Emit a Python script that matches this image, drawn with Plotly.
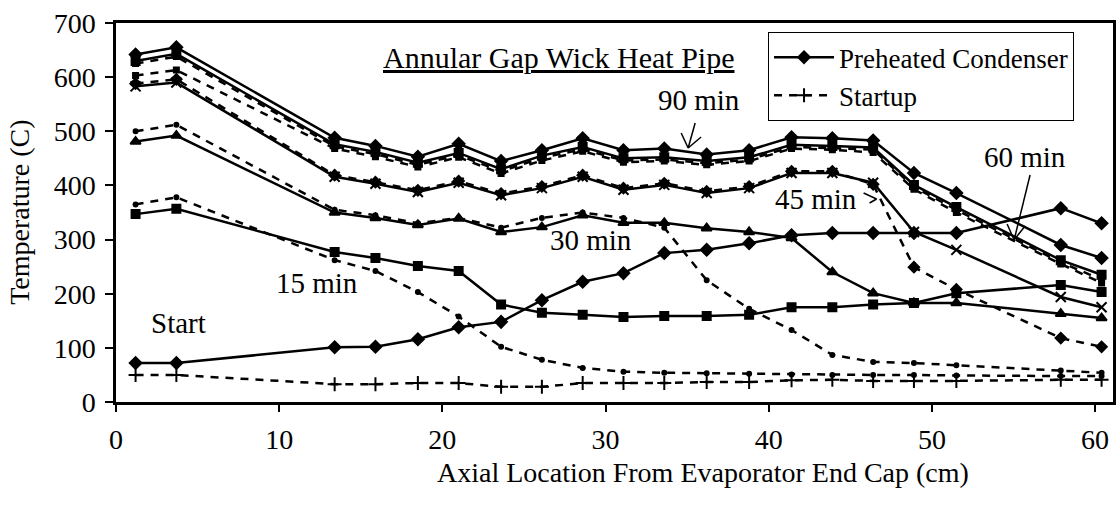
import plotly.graph_objects as go

# axial positions (cm)
X = [1.2, 3.7, 13.4, 15.9, 18.5, 21.0, 23.6, 26.1, 28.6, 31.1, 33.6, 36.2,
     38.8, 41.4, 43.9, 46.4, 48.9, 51.5, 57.9, 60.4]

# Preheated condenser (solid)
P_start = [72, 72, 101, 102, 116, 138, 148, 188, 222, 238, 275, 281, 293, 308, 312, 312, 312, 312, 358, 330]
P_15 = [347, 357, 277, 266, 251, 242, 180, 165, 161, 157, 159, 159, 161, 175, 175, 180, 183, 201, 216, 203]
P_30 = [481, 492, 350, 340, 327, 339, 314, 323, 345, 331, 331, 321, 314, 303, 240, 201, 183, 183, 163, 155]
P_45 = [583, 590, 416, 403, 388, 405, 382, 395, 416, 392, 401, 386, 395, 423, 423, 405, 314, 281, 194, 175]
P_60 = [630, 643, 476, 462, 442, 460, 430, 455, 471, 450, 452, 445, 452, 475, 473, 470, 401, 360, 262, 235]
P_90 = [642, 655, 488, 473, 453, 477, 445, 465, 487, 465, 468, 457, 465, 489, 487, 483, 423, 386, 290, 266]

# Startup (dashed)
S_start = [50, 50, 33, 33, 35, 35, 28, 28, 35, 35, 35, 37, 37, 40, 41, 39, 39, 39, 41, 41]
S_15 = [365, 378, 262, 242, 203, 158, 102, 78, 63, 56, 54, 53, 52, 51, 50, 50, 50, 49, 48, 48]
S_30 = [500, 512, 355, 345, 330, 340, 322, 340, 350, 340, 322, 225, 172, 133, 87, 74, 72, 68, 58, 54]
S_45 = [588, 596, 419, 406, 391, 408, 385, 398, 419, 395, 404, 389, 398, 426, 426, 402, 249, 208, 118, 102]
S_60 = [603, 613, 468, 453, 434, 452, 422, 446, 463, 443, 445, 438, 445, 468, 466, 461, 393, 350, 255, 220]
S_90 = [625, 638, 472, 458, 438, 456, 426, 451, 467, 446, 448, 441, 448, 471, 469, 466, 397, 355, 258, 226]

FONT = "Liberation Serif"
fig = go.Figure()

def solid(y, sym, name=None, show=False, size=9):
    fig.add_trace(go.Scatter(x=X, y=y, mode="lines+markers", name=name, showlegend=show,
                             line=dict(color="black", width=2.5),
                             marker=dict(symbol=sym, size=size, color="black",
                                         line=dict(color="black", width=2))))

def dashed(y, sym, name=None, show=False, size=5):
    fig.add_trace(go.Scatter(x=X, y=y, mode="lines+markers", name=name, showlegend=show,
                             line=dict(color="black", width=2.5, dash="8px,7px"),
                             marker=dict(symbol=sym, size=size, color="black",
                                         line=dict(color="black", width=2))))

solid(P_start, "diamond", "Preheated Condenser", True, 9)
dashed(S_start, "cross-thin", "Startup", True, 10)
solid(P_15, "square", size=8)
solid(P_30, "triangle-up", size=9)
solid(P_45, "x-thin", size=10)
solid(P_60, "square", size=8)
solid(P_90, "diamond", size=9)
dashed(S_15, "circle", size=4)
dashed(S_30, "circle", size=4)
dashed(S_45, "diamond", size=8)
dashed(S_60, "square", size=5)
dashed(S_90, "square", size=5)

fig.update_layout(
    width=1120, height=513,
    margin=dict(l=116, r=4, t=23, b=111),
    paper_bgcolor="white", plot_bgcolor="white",
    font=dict(family=FONT, size=28, color="black"),
    showlegend=True,
    legend=dict(x=0.654, y=0.976, xanchor="left", yanchor="top",
                bordercolor="black", borderwidth=1, bgcolor="white",
                font=dict(family=FONT, size=27), itemwidth=60,
                tracegroupgap=0),
)
fig.update_xaxes(range=[0, 61.1], tickvals=[0, 10, 20, 30, 40, 50, 60],
                 ticks="outside", ticklen=7, tickwidth=1.5, tickcolor="black",
                 ticklabelstandoff=4,
                 showline=True, linewidth=2.5, linecolor="black", mirror=True,
                 showgrid=False, zeroline=False,
                 tickfont=dict(family=FONT, size=28))
fig.update_yaxes(range=[0, 700], dtick=100,
                 ticks="outside", ticklen=8, tickwidth=1.5, tickcolor="black",
                 ticklabelstandoff=4,
                 showline=True, linewidth=2.5, linecolor="black", mirror=True,
                 showgrid=False, zeroline=False,
                 tickfont=dict(family=FONT, size=28))

ann = []
ann.append(dict(text="Axial Location From Evaporator End Cap (cm)", xref="paper", yref="paper",
                x=0.589, y=-0.185, xanchor="center", yanchor="middle",
                showarrow=False, font=dict(size=28)))
ann.append(dict(text="Temperature (C)", xref="paper", yref="paper", x=-0.097, y=0.5,
                xanchor="center", yanchor="middle",
                textangle=-90, showarrow=False, font=dict(size=28)))
ann.append(dict(text="<u>Annular Gap Wick Heat Pipe</u>", x=27.1, y=637, showarrow=False,
                font=dict(size=30)))
for t, x, y in [("Start", 3.8, 146), ("15 min", 12.3, 220), ("30 min", 29.1, 299),
                ("45 min", 42.9, 375), ("90 min", 35.7, 558), ("60 min", 55.7, 452)]:
    ann.append(dict(text=t, x=x, y=y, showarrow=False, font=dict(size=29)))
fig.update_layout(annotations=ann)

# arrow pointers (pixel -> data helpers)
def px(xp):
    return (xp - 116) / 16.37
def py(yp):
    return (402 - yp) / 0.5414

segs = [
    ((697, 123), (690, 148)), ((683, 133), (690, 148)), ((703, 137), (690, 148)),
    ((1033, 175), (1017, 240)), ((1010, 224), (1017, 240)), ((1028, 226), (1017, 240)),
    ((866, 193), (879, 199)), ((872, 203), (879, 199)),
]
for (a, b) in segs:
    fig.add_shape(type="line", x0=px(a[0]), y0=py(a[1]), x1=px(b[0]), y1=py(b[1]),
                  line=dict(color="black", width=1.5))

fig.write_html("out.html")
